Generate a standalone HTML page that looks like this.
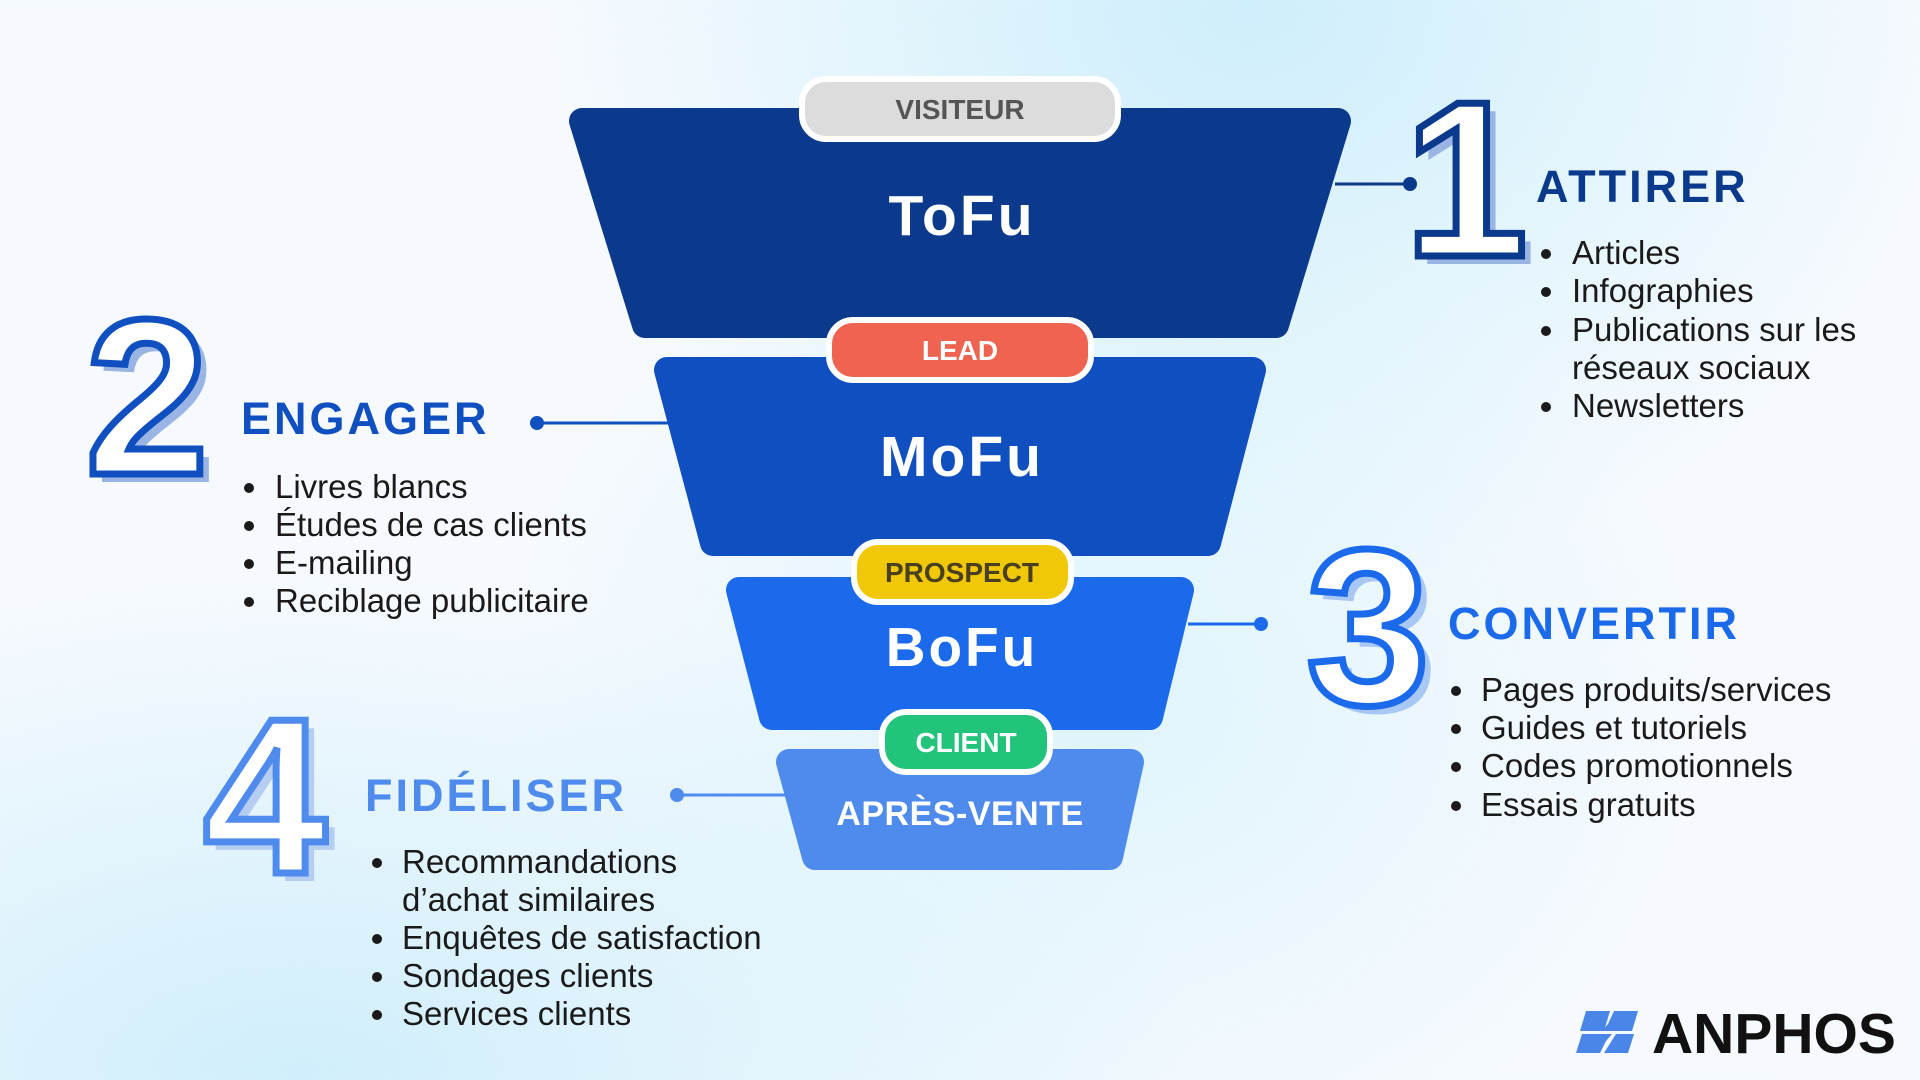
<!DOCTYPE html>
<html><head><meta charset="utf-8"><style>
html,body{margin:0;padding:0;width:1920px;height:1080px;overflow:hidden}
body{background:
radial-gradient(ellipse 700px 600px at 1250px 0px,#cdeefb 0%,rgba(205,238,251,0) 100%),
radial-gradient(ellipse 900px 500px at 300px 1080px,#cfeefb 0%,rgba(207,238,251,0) 100%),
radial-gradient(ellipse 600px 500px at 1100px 700px,#dff4fc 0%,rgba(223,244,252,0) 100%),
#f6fafe}
svg text{font-family:"Liberation Sans",sans-serif}
.li{font-size:33px;fill:#1a1a1a;letter-spacing:0px}
.h{font-size:45px;font-weight:bold;letter-spacing:3px}
.num{font-size:222px;font-weight:bold;text-anchor:middle}
.pill{font-size:28px;font-weight:bold;text-anchor:middle}
.big{font-weight:bold;fill:#fff;text-anchor:middle;letter-spacing:3px}
</style></head><body>
<svg width="1920" height="1080" viewBox="0 0 1920 1080" xmlns="http://www.w3.org/2000/svg">
<g stroke-linejoin="round" stroke-width="26">
<polygon points="582,121 1338,121 1276,325 645,325" fill="#0b3a8c" stroke="#0b3a8c"/>
<polygon points="667,370 1253,370 1208,543 713,543" fill="#0f4fc0" stroke="#0f4fc0"/>
<polygon points="739,590 1181,590 1150,717 772,717" fill="#1a6aeb" stroke="#1a6aeb"/>
<polygon points="789,762 1131,762 1110,857 815,857" fill="#4f8bec" stroke="#4f8bec"/>
</g>
<g stroke-width="3">
<line x1="1335" y1="184" x2="1410" y2="184" stroke="#0b3a8c"/><circle cx="1410" cy="184" r="7" fill="#0b3a8c"/>
<line x1="537" y1="423" x2="672" y2="423" stroke="#0f4fc0"/><circle cx="537" cy="423" r="7" fill="#0f4fc0"/>
<line x1="1188" y1="624" x2="1261" y2="624" stroke="#1a6aeb"/><circle cx="1261" cy="624" r="7" fill="#1a6aeb"/>
<line x1="677" y1="795" x2="790" y2="795" stroke="#4f8bec"/><circle cx="677" cy="795" r="7" fill="#4f8bec"/>
</g>
<text class="big" x="962" y="235" font-size="57">ToFu</text>
<text class="big" x="962" y="476" font-size="57">MoFu</text>
<text class="big" x="962" y="666" font-size="55">BoFu</text>
<text class="big" x="960" y="825" font-size="34" style="letter-spacing:0.5px">APRÈS-VENTE</text>
<rect x="802" y="79" width="316" height="60" rx="24" fill="#dcdcdc" stroke="#fff" stroke-width="6"/>
<text class="pill" x="960" y="119" fill="#555">VISITEUR</text>
<rect x="829" y="320" width="262" height="60" rx="24" fill="#ef6450" stroke="#fff" stroke-width="6"/>
<text class="pill" x="960" y="360" fill="#fff">LEAD</text>
<rect x="854" y="542" width="217" height="60" rx="24" fill="#f0c808" stroke="#fff" stroke-width="6"/>
<text class="pill" x="962" y="582" fill="#4a4020">PROSPECT</text>
<rect x="882" y="712" width="168" height="60" rx="24" fill="#22c37a" stroke="#fff" stroke-width="6"/>
<text class="pill" x="966" y="752" fill="#fff">CLIENT</text>
<g class="num">
<text x="1475" y="264" fill="#9ab5e3">1</text>
<text x="1466" y="256" fill="#fff" stroke="#0b3a8c" stroke-width="7">1</text>
<text x="156" y="482" fill="#9ab5e3">2</text>
<text x="147" y="474" fill="#fff" stroke="#0f4fc0" stroke-width="7">2</text>
<text x="1377" y="712" fill="#a9c7f4">3</text>
<text x="1368" y="704" fill="#fff" stroke="#1a6aeb" stroke-width="7">3</text>
<text x="274" y="881" fill="#b6cdf2">4</text>
<text x="265" y="873" fill="#fff" stroke="#4f8bec" stroke-width="7">4</text>
</g>
<text class="h" x="1536" y="202" fill="#0b3a8c">ATTIRER</text>
<text class="h" x="241" y="434" fill="#0f4fc0">ENGAGER</text>
<text class="h" x="1448" y="639" fill="#1a6aeb">CONVERTIR</text>
<text class="h" x="365" y="811" fill="#4f8bec">FIDÉLISER</text>
<g fill="#1a1a1a">
<circle cx="1546" cy="254" r="5"/><circle cx="1546" cy="292" r="5"/><circle cx="1546" cy="331" r="5"/><circle cx="1546" cy="407" r="5"/>
<circle cx="249" cy="488" r="5"/><circle cx="249" cy="526" r="5"/><circle cx="249" cy="564" r="5"/><circle cx="249" cy="602" r="5"/>
<circle cx="1456" cy="691" r="5"/><circle cx="1456" cy="729" r="5"/><circle cx="1456" cy="767" r="5"/><circle cx="1456" cy="806" r="5"/>
<circle cx="377" cy="863" r="5"/><circle cx="377" cy="939" r="5"/><circle cx="377" cy="977" r="5"/><circle cx="377" cy="1015" r="5"/>
</g>
<g>
<text x="1572" y="264" class="li">Articles</text>
<text x="1572" y="302" class="li">Infographies</text>
<text x="1572" y="341" class="li">Publications sur les</text>
<text x="1572" y="379" class="li">réseaux sociaux</text>
<text x="1572" y="417" class="li">Newsletters</text>
<text x="275" y="498" class="li">Livres blancs</text>
<text x="275" y="536" class="li">Études de cas clients</text>
<text x="275" y="574" class="li">E-mailing</text>
<text x="275" y="612" class="li">Reciblage publicitaire</text>
<text x="1481" y="701" class="li">Pages produits/services</text>
<text x="1481" y="739" class="li">Guides et tutoriels</text>
<text x="1481" y="777" class="li">Codes promotionnels</text>
<text x="1481" y="816" class="li">Essais gratuits</text>
<text x="402" y="873" class="li">Recommandations</text>
<text x="402" y="911" class="li">d’achat similaires</text>
<text x="402" y="949" class="li">Enquêtes de satisfaction</text>
<text x="402" y="987" class="li">Sondages clients</text>
<text x="402" y="1025" class="li">Services clients</text>
</g>
<g fill="#4a86e8">
<polygon points="1586,1011 1610,1011 1604,1031 1580,1031"/>
<polygon points="1614,1011 1638,1011 1632,1031 1602,1031 1608,1024"/>
<polygon points="1582,1034 1612,1034 1606,1041 1600,1053 1576,1053"/>
<polygon points="1616,1034 1634,1034 1628,1053 1604,1053"/>
</g>
<text x="1652" y="1053" font-size="57" font-weight="bold" fill="#111">ANPHOS</text>
</svg>
</body></html>
